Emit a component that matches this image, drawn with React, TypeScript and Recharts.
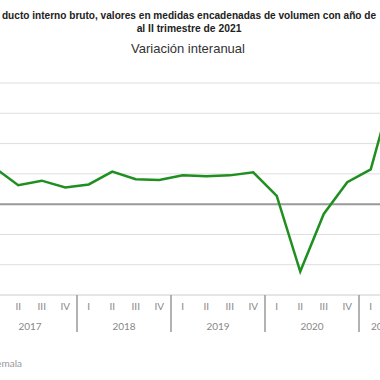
import { LineChart, Line, XAxis, YAxis, ReferenceLine } from "recharts";

// PIB Guatemala, variación interanual (%) por trimestre
const QUARTERS = ["I", "II", "III", "IV", "I", "II", "III", "IV", "I", "II", "III", "IV", "I", "II", "III", "IV", "I", "II"];
const YEARS = ["2017", "2017", "2017", "2017", "2018", "2018", "2018", "2018", "2019", "2019", "2019", "2019", "2020", "2020", "2020", "2020", "2021", "2021"];
const VARIACION = [4.8, 2.5, 3.1, 2.2, 2.6, 4.3, 3.3, 3.2, 3.8, 3.7, 3.8, 4.2, 1.1, -8.9, -1.3, 2.9, 4.6, 15.8];
const Y_TICKS = [-12, -8, -4, 0, 4, 8, 12, 16];

const data = QUARTERS.map((q, i) => ({ key: `${YEARS[i]}-${q}`, trimestre: q, anio: YEARS[i], valor: VARIACION[i] }));

const CHART_W = 423;
const CHART_H = 340;
const PAD = 11.75;
const STEP = (CHART_W - 2 * PAD) / (data.length - 1);
const AXIS_FONT = "Lato, 'DejaVu Sans', sans-serif";
const TITLE_FONT = "'Liberation Sans', Arial, sans-serif";

// eslint-disable-next-line @typescript-eslint/no-explicit-any
function QuarterTick(props: any) {
  const { x, y, payload } = props;
  const i = payload.index;
  const year = YEARS[i];
  const first = i === 0 || YEARS[i - 1] !== year;
  const count = YEARS.filter((v) => v === year).length;
  const axisY = y - 8;
  return (
    <g>
      <text x={x} y={axisY + 15} textAnchor="middle" fontSize={10} fill="#888" fontFamily={AXIS_FONT}>
        {QUARTERS[i]}
      </text>
      {first && (
        <>
          <line x1={x - STEP / 2} x2={x - STEP / 2} y1={axisY} y2={axisY + 37} stroke="#999" strokeWidth={1.5} />
          <text x={x + ((count - 1) / 2) * STEP} y={axisY + 35} textAnchor="middle" fontSize={10} fill="#888" fontFamily={AXIS_FONT}>
            {year}
          </text>
        </>
      )}
    </g>
  );
}

export default function App() {
  return (
    <div style={{ position: "fixed", left: 0, top: 0, width: 380, height: 380, overflow: "hidden", background: "#fff" }}>
      <svg width={380} height={380} style={{ position: "absolute", left: 0, top: 0 }}>
        <text x={189} y={19} textAnchor="middle" fontSize={10.1} fontWeight="bold" fill="#222" fontFamily={TITLE_FONT}>
          ducto interno bruto, valores en medidas encadenadas de volumen con año de
        </text>
        <text x={189} y={32} textAnchor="middle" fontSize={10.3} fontWeight="bold" fill="#222" fontFamily={TITLE_FONT}>
          al II trimestre de 2021
        </text>
        <text x={188} y={53} textAnchor="middle" fontSize={13} fill="#333" fontFamily={TITLE_FONT}>
          Variación interanual
        </text>
        <text x={22} y={367} textAnchor="end" fontSize={10} fill="#999" fontFamily={AXIS_FONT}>
          Fuente: Banco de Guatemala
        </text>
      </svg>
      <div style={{ position: "absolute", left: -17, top: 0 }}>
        <LineChart width={CHART_W} height={CHART_H} data={data} margin={{ top: 83, right: 0, bottom: 0, left: 0 }}>
          <XAxis
            dataKey="key"
            height={45}
            padding={{ left: PAD, right: PAD }}
            axisLine={{ stroke: "#ccc" }}
            tickLine={false}
            interval={0}
            tick={<QuarterTick />}
          />
          <YAxis width={0} domain={[-12, 16]} ticks={Y_TICKS} tick={false} axisLine={false} tickLine={false} />
          {Y_TICKS.filter((t) => t !== 0 && t !== -12).map((t) => (
            <ReferenceLine key={t} y={t} stroke="#dedede" strokeWidth={1} />
          ))}
          <ReferenceLine y={0} stroke="#999" strokeWidth={2} />
          <Line type="linear" dataKey="valor" stroke="#1f8f1f" strokeWidth={2.5} dot={false} isAnimationActive={false} />
        </LineChart>
      </div>
    </div>
  );
}
